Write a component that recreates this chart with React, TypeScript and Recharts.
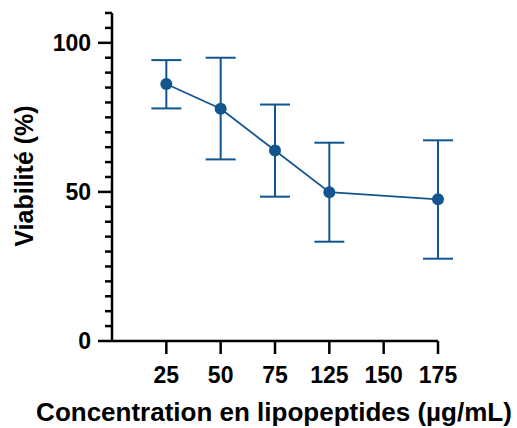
import {
  LineChart,
  Line,
  XAxis,
  YAxis,
  ErrorBar,
  Label,
  ReferenceLine,
} from "recharts";

const concentrations = ["25", "50", "75", "125", "150", "175"];
// points measured (150 has no measurement)
const measuredAt = ["25", "50", "75", "125", "175"];
const viability = [86.2, 77.9, 63.9, 49.9, 47.5];
const upper = [94.2, 95.0, 79.3, 66.5, 67.3];
const lower = [78.0, 60.9, 48.4, 33.3, 27.6];

const yMajorTicks = [0, 50, 100];
const yMinorTicks = [5, 10, 15, 20, 25, 30, 35, 40, 45, 55, 60, 65, 70, 75, 80, 85, 90, 95, 105, 110];

const blue = "#12558f";
const font = "'Liberation Sans', Arial, Helvetica, sans-serif";

const data = measuredAt.map((c, i) => ({
  pos: concentrations.indexOf(c) + 1,
  value: viability[i],
  err: [viability[i] - lower[i], upper[i] - viability[i]],
}));

// short tick left of the y axis, at the y the scale gives
const minorTick = (props: any) => {
  const x = Number(props.x1);
  const y = Number(props.y1);
  return <path d={`M${x - 7},${y}H${x}`} stroke="#000" strokeWidth={2.5} fill="none" />;
};

export default function App() {
  return (
    <div style={{ position: "absolute", left: 0, top: 0, background: "#fff" }}>
      <LineChart
        width={517}
        height={428}
        data={data}
        margin={{ top: 13, right: 79, bottom: 27, left: 52 }}
      >
        <XAxis
          dataKey="pos"
          type="number"
          domain={[0, 6]}
          ticks={[1, 2, 3, 4, 5, 6]}
          tickFormatter={(v: number) => concentrations[v - 1] ?? ""}
          height={60}
          axisLine={{ stroke: "#000", strokeWidth: 2.5 }}
          tickLine={{ stroke: "#000", strokeWidth: 2.5 }}
          tickSize={13}
          tickMargin={13}
          tick={{ fontSize: 23, fontWeight: 700, fill: "#000", fontFamily: font }}
          interval={0}
        >
          <Label
            content={() => (
              <text
                x={274}
                y={421}
                textAnchor="middle"
                fontSize={26}
                fontWeight={700}
                fontFamily={font}
                fill="#000"
              >
                Concentration en lipopeptides (µg/mL)
              </text>
            )}
          />
        </XAxis>
        <YAxis
          yAxisId="main"
          type="number"
          domain={[0, 110]}
          ticks={yMajorTicks}
          interval={0}
          width={60}
          axisLine={{ stroke: "#000", strokeWidth: 2.5 }}
          tickLine={{ stroke: "#000", strokeWidth: 2.5 }}
          tickSize={14}
          tickMargin={7}
          tick={{ fontSize: 23, fontWeight: 700, fill: "#000", fontFamily: font }}
        >
          <Label
            content={() => (
              <text
                x={24}
                y={176}
                transform="rotate(-90 24 176)"
                textAnchor="middle"
                dominantBaseline="central"
                fontSize={25}
                fontWeight={700}
                fontFamily={font}
                fill="#000"
              >
                Viabilité (%)
              </text>
            )}
          />
        </YAxis>
        {yMinorTicks.map((v) => (
          <ReferenceLine
            key={v}
            yAxisId="main"
            y={v}
            ifOverflow="visible"
            shape={minorTick}
          />
        ))}
        <Line
          yAxisId="main"
          type="linear"
          dataKey="value"
          stroke={blue}
          strokeWidth={1.8}
          dot={{ r: 6, fill: blue, stroke: blue, strokeWidth: 0 }}
          isAnimationActive={false}
        >
          <ErrorBar
            dataKey="err"
            direction="y"
            width={15}
            stroke={blue}
            strokeWidth={2}
            isAnimationActive={false}
          />
        </Line>
      </LineChart>
    </div>
  );
}
